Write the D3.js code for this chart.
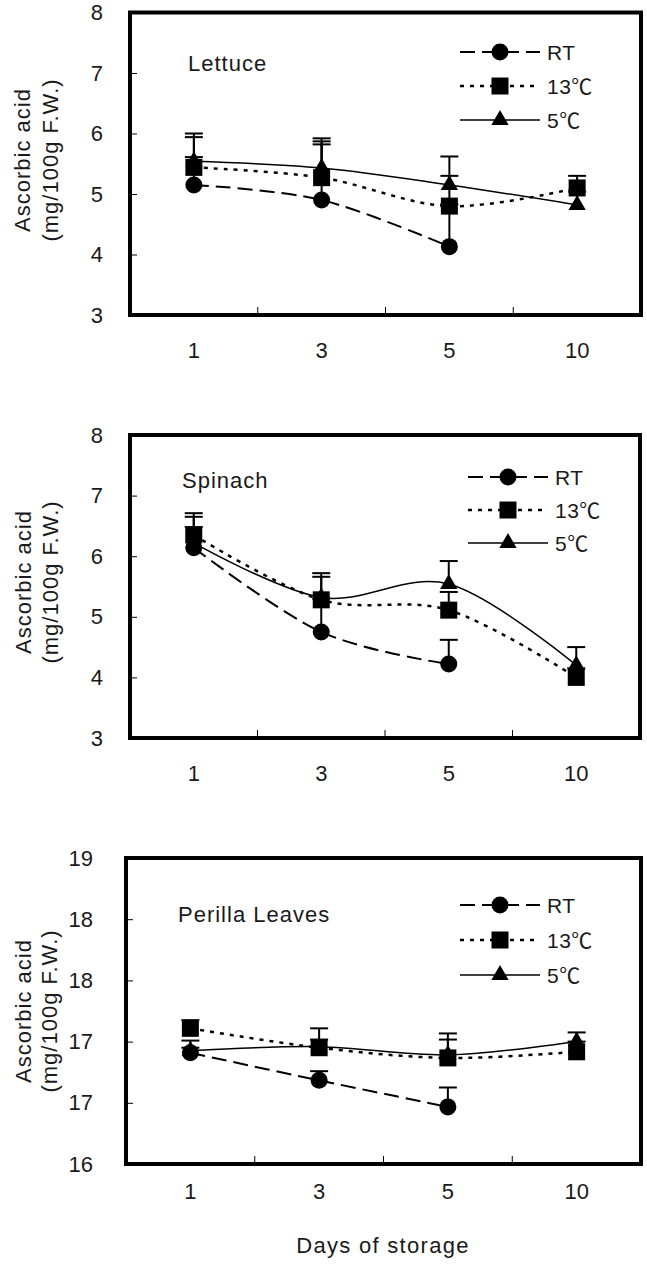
<!DOCTYPE html>
<html>
<head>
<meta charset="utf-8">
<script src="https://cdn.jsdelivr.net/npm/d3@7"></script>
<style>
  html, body { margin: 0; padding: 0; background: #fff; }
  svg { display: block; }
  text { font-family: "Liberation Sans", Arial, "Noto Sans CJK KR", sans-serif; fill: #1a1a1a; }
</style>
</head>
<body>
<svg id="chart" width="647" height="1265"></svg>
<script>
// Storage days (categories) and treatment names
const days = ["1", "3", "5", "10"];
const treatments = ["RT", "13℃", "5℃"];

// Y tick values
const yTicksLeafy = [3, 4, 5, 6, 7, 8];
const yTicksPerilla = [16, 16.6, 17.2, 17.8, 18.4, 19];

// Lettuce: means and upper error (mg/100g F.W.)
const lettuceRT    = [5.15, 4.90, 4.13, null];
const lettuce13    = [5.44, 5.27, 4.80, 5.10];
const lettuce5     = [5.54, 5.43, 5.15, 4.82];
const lettuceRTErr = [0.46, 0.92, 0.70, null];
const lettuce13Err = [0.50, 0.60, 0.50, 0.20];
const lettuce5Err  = [0.46, 0.49, 0.47, 0.22];

// Spinach
const spinachRT    = [6.14, 4.75, 4.22, null];
const spinach13    = [6.35, 5.28, 5.11, 4.00];
const spinach5     = [6.22, 5.32, 5.54, 4.20];
const spinachRTErr = [0.34, 0.55, 0.40, null];
const spinach13Err = [0.36, 0.38, 0.30, 0.15];
const spinach5Err  = [0.43, 0.40, 0.38, 0.30];

// Perilla leaves
const perillaRT    = [17.09, 16.82, 16.56, null];
const perilla13    = [17.33, 17.14, 17.04, 17.10];
const perilla5     = [17.11, 17.15, 17.07, 17.20];
const perillaRTErr = [0.05, 0.09, 0.19, null];
const perilla13Err = [0.08, 0.08, 0.18, 0.10];
const perilla5Err  = [0.10, 0.18, 0.21, 0.09];

// Line and marker style for each treatment
const styles = [
  { dash: "15,7", width: 2,   symbol: d3.symbolCircle,   size: 227 },
  { dash: "4,6",  width: 2.5, symbol: d3.symbolSquare,   size: 289 },
  { dash: null,   width: 1.5, symbol: d3.symbolTriangle, size: 130 }
];

// Panel layout
const panels = [
  { title: "Lettuce", means: [lettuceRT, lettuce13, lettuce5], errs: [lettuceRTErr, lettuce13Err, lettuce5Err],
    left: 130, right: 641, top: 12.5, bottom: 315, domain: [3, 8], ticks: yTicksLeafy,
    yPad: 27, xPad: 27, titleX: 188, titleY: 71, legX: 460, legY: 52, legGap: 34,
    axTitleY: 160, axTitleX: [30, 58] },
  { title: "Spinach", means: [spinachRT, spinach13, spinach5], errs: [spinachRTErr, spinach13Err, spinach5Err],
    left: 130, right: 640, top: 435, bottom: 738, domain: [3, 8], ticks: yTicksLeafy,
    yPad: 27, xPad: 27, titleX: 182, titleY: 488, legX: 468, legY: 477, legGap: 33,
    axTitleY: 582, axTitleX: [31, 58] },
  { title: "Perilla Leaves", means: [perillaRT, perilla13, perilla5], errs: [perillaRTErr, perilla13Err, perilla5Err],
    left: 126, right: 641, top: 858, bottom: 1164, domain: [16, 19], ticks: yTicksPerilla,
    yPad: 33, xPad: 19, titleX: 178, titleY: 922, legX: 460, legY: 905, legGap: 35,
    axTitleY: 1011, axTitleX: [31, 57] }
];

const svg = d3.select("#chart");
svg.append("rect").attr("width", 647).attr("height", 1265).attr("fill", "#fff");

const fmt = d3.format(".0f");

function drawPanel(p) {
  const g = svg.append("g");
  const x = d3.scaleBand().domain(days).range([p.left, p.right]);
  const y = d3.scaleLinear().domain(p.domain).range([p.bottom, p.top]);
  const cx = d => x(d) + x.bandwidth() / 2;

  // y axis: ticks point inward
  const ya = g.append("g")
    .attr("transform", `translate(${p.left},0)`)
    .call(d3.axisLeft(y).tickValues(p.ticks).tickFormat(fmt)
      .tickSizeInner(-7).tickSizeOuter(0).tickPadding(p.yPad));
  ya.select(".domain").remove();
  ya.selectAll(".tick line").attr("stroke", "#000").attr("stroke-width", 1);
  ya.selectAll("text").attr("font-size", 22).attr("fill", "#1a1a1a");
  ya.attr("font-family", null);

  // x axis labels centred on each day
  const xa = g.append("g")
    .attr("transform", `translate(0,${p.bottom})`)
    .call(d3.axisBottom(x).tickSize(0).tickPadding(p.xPad));
  xa.select(".domain").remove();
  xa.selectAll("text").attr("font-size", 22).attr("fill", "#1a1a1a");
  xa.attr("font-family", null);

  // separators between day groups
  g.selectAll(".sep").data(days.slice(1)).join("line")
    .attr("x1", d => x(d)).attr("x2", d => x(d))
    .attr("y1", p.bottom).attr("y2", p.bottom - 8)
    .attr("stroke", "#000").attr("stroke-width", 1);

  const seriesPts = p.means.map((m, i) =>
    days.map((d, j) => ({ day: d, v: m[j], e: p.errs[i][j] })).filter(q => q.v != null));

  const line = d3.line()
    .x(q => cx(q.day)).y(q => y(q.v))
    .curve(d3.curveCardinal.tension(0));

  // smoothed series lines
  seriesPts.forEach((pts, i) => {
    g.append("path").attr("d", line(pts))
      .attr("fill", "none").attr("stroke", "#000")
      .attr("stroke-width", styles[i].width)
      .attr("stroke-dasharray", styles[i].dash);
  });

  // upper error bars
  seriesPts.forEach(pts => {
    const eb = g.append("g").attr("stroke", "#000").attr("stroke-width", 2);
    pts.filter(q => q.e != null).forEach(q => {
      eb.append("line").attr("x1", cx(q.day)).attr("x2", cx(q.day))
        .attr("y1", y(q.v)).attr("y2", y(q.v + q.e));
      eb.append("line").attr("x1", cx(q.day) - 9).attr("x2", cx(q.day) + 9)
        .attr("y1", y(q.v + q.e)).attr("y2", y(q.v + q.e));
    });
  });

  // markers
  seriesPts.forEach((pts, i) => {
    const sym = d3.symbol(styles[i].symbol, styles[i].size);
    g.selectAll(null).data(pts).join("path")
      .attr("d", sym)
      .attr("transform", q => `translate(${cx(q.day)},${y(q.v)})`)
      .attr("fill", "#000");
  });

  // frame
  g.append("rect")
    .attr("x", p.left).attr("y", p.top)
    .attr("width", p.right - p.left).attr("height", p.bottom - p.top)
    .attr("fill", "none").attr("stroke", "#000").attr("stroke-width", 4);

  // crop name
  g.append("text").attr("x", p.titleX).attr("y", p.titleY)
    .attr("font-size", 22).attr("letter-spacing", 1).text(p.title);

  // legend
  treatments.forEach((t, i) => {
    const ry = p.legY + i * p.legGap;
    g.append("line").attr("x1", p.legX).attr("x2", p.legX + 80)
      .attr("y1", ry).attr("y2", ry)
      .attr("stroke", "#000").attr("stroke-width", styles[i].width)
      .attr("stroke-dasharray", styles[i].dash);
    g.append("path").attr("d", d3.symbol(styles[i].symbol, styles[i].size)())
      .attr("transform", `translate(${p.legX + 40},${ry})`).attr("fill", "#000");
    g.append("text").attr("x", p.legX + 87).attr("y", ry + 8)
      .attr("font-size", 21).attr("letter-spacing", 0.5).text(t);
  });

  // y axis title (two lines)
  ["Ascorbic acid", "(mg/100g F.W.)"].forEach((s, k) => {
    g.append("text")
      .attr("transform", `translate(${p.axTitleX[k]},${p.axTitleY}) rotate(-90)`)
      .attr("text-anchor", "middle").attr("font-size", 22).attr("letter-spacing", 1)
      .text(s);
  });
}

panels.forEach(drawPanel);

// shared x axis title
svg.append("text").attr("x", 383).attr("y", 1253)
  .attr("text-anchor", "middle").attr("font-size", 22).attr("letter-spacing", 1.3)
  .text("Days of storage");
</script>
</body>
</html>
